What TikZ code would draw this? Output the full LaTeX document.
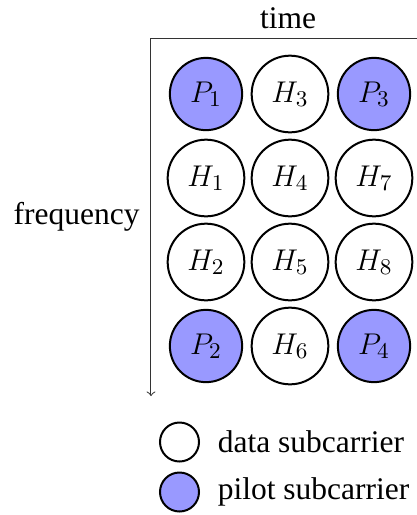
\documentclass[tikz,border=0pt]{standalone}
\usepackage{fontspec}
\setmainfont{Liberation Serif}
\usetikzlibrary{positioning}

\begin{document}
\begin{tikzpicture}[
    x=0.4pt, y=-0.4pt,
    font=\fontsize{12.6}{15}\selectfont,
    % --- STYLES ---
    data/.style={
        circle, draw=black, thick,
        fill=white, inner sep=4.55pt
    },
    pilot/.style={data, fill=blue!40},
    legendmark/.style={
        circle, draw=black, thick,
        minimum size=15.6pt, inner sep=0pt
    },
    axis/.style={->, thin, black!80}
]

\useasboundingbox (0,0) rectangle (417,515);

% ===== 1. AXES =====
\coordinate (origin) at (151,38);
\coordinate (tend) at (425,38);
\coordinate (fend) at (151,396);

\draw[axis] (origin) -- (tend);
\draw[axis] (origin) -- (fend);

\node[above=0pt] (timelbl) at (288,38) {time};
\node[left=1pt] (freqlbl) at (151,217) {frequency};

% ===== 2. GRID OF SUBCARRIERS =====
\def\xA{206} \def\xB{290} \def\xC{374}
\def\yA{94} \def\yB{178} \def\yC{262} \def\yD{346}

\node[pilot] (p1) at (\xA,\yA) {$P_1$};
\node[data]  (h3) at (\xB,\yA) {$H_3$};
\node[pilot] (p3) at (\xC,\yA) {$P_3$};

\node[data] (h1) at (\xA,\yB) {$H_1$};
\node[data] (h4) at (\xB,\yB) {$H_4$};
\node[data] (h7) at (\xC,\yB) {$H_7$};

\node[data] (h2) at (\xA,\yC) {$H_2$};
\node[data] (h5) at (\xB,\yC) {$H_5$};
\node[data] (h8) at (\xC,\yC) {$H_8$};

\node[pilot] (p2) at (\xA,\yD) {$P_2$};
\node[data]  (h6) at (\xB,\yD) {$H_6$};
\node[pilot] (p4) at (\xC,\yD) {$P_4$};

% ===== 3. LEGEND =====
\node[legendmark, fill=white] (datamark) at (179.5,442) {};
\node[right=3.6pt of datamark] (datatxt) {data subcarrier};

\node[legendmark, fill=blue!40] (pilotmark) at (179.5,492) {};
\node[right=3.6pt of pilotmark] (pilottxt) {pilot subcarrier};

\end{tikzpicture}
\end{document}
